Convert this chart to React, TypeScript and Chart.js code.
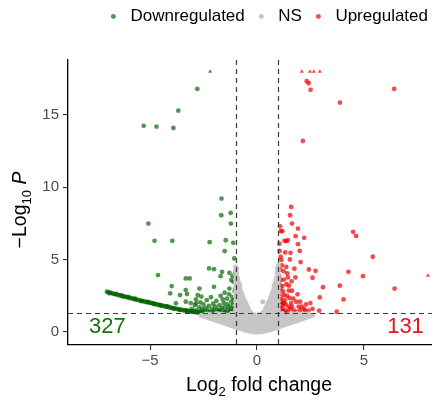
import React, { useEffect, useRef } from 'react';
import { Chart, registerables } from 'chart.js';
Chart.register(...registerables);

const FONT = '"Liberation Sans", Arial, Helvetica, sans-serif';

const legendLabels = ['Downregulated', 'NS', 'Upregulated'];
const xTicks = [-5, 0, 5];
const yTicks = [0, 5, 10, 15];
const fcCutoffs = [-1, 1];
const pCutoffLog = 1.3;
const downCount = 327;
const upCount = 131;

// [log2FC, -log10 P, capped(1)]
const downScattered: number[][] = [
  [-2.19, 18, 1], [-2.79, 16.8], [-3.68, 15.3], [-5.3, 14.25], [-4.7, 14.2], [-3.91, 14.1],
  [-5.08, 7.49], [-4.79, 6.3], [-3.96, 6.3], [-4.63, 3.93], [-3.33, 3.7], [-3.15, 3.7],
  [-3.99, 3.17], [-3.33, 2.9], [-4.06, 2.67], [-2.77, 2.55],
  [-1.66, 9.22], [-1.67, 8.07], [-1.23, 8.23], [-1.22, 7.49], [-2.21, 6.21], [-1.46, 6.34],
  [-1.11, 6.16], [-1.51, 5.59], [-1.06, 5.08], [-2.24, 4.39], [-2.01, 4.34], [-1.63, 4.16],
  [-1.29, 4.09], [-1.7, 3.86], [-1.14, 3.86], [-1.02, 4.05], [-1.2, 3.59], [-1.1, 3.47],
  [-2.01, 3.12], [-1.29, 3.0], [-1.02, 3.0], [-1.51, 2.71],
  [-3.6, 2.55], [-3.27, 2.62], [-2.69, 3.0], [-3.79, 1.98], [-3.33, 2.09], [-2.85, 1.98],
];
const downCluster: number[][] = [
  [-3.2, 1.45], [-3.05, 1.6], [-2.95, 1.42], [-2.9, 1.85], [-2.85, 1.5], [-2.75, 1.38], [-2.7, 1.7],
  [-2.65, 2.05], [-2.6, 1.45], [-2.55, 1.58], [-2.5, 1.9], [-2.45, 1.4], [-2.4, 1.65], [-2.35, 2.2],
  [-2.3, 1.5], [-2.25, 1.8], [-2.2, 1.38], [-2.15, 2.4], [-2.1, 1.6], [-2.05, 1.95], [-2.0, 1.45],
  [-1.95, 1.75], [-1.9, 2.15], [-1.85, 1.55], [-1.8, 1.4], [-1.75, 1.85], [-1.7, 2.5], [-1.65, 1.65],
  [-1.6, 1.45], [-1.55, 2.0], [-1.5, 1.7], [-1.45, 1.4], [-1.4, 2.3], [-1.38, 1.9], [-1.35, 1.55],
  [-1.3, 2.6], [-1.28, 1.75], [-1.25, 1.42], [-1.2, 2.1], [-1.18, 1.6], [-1.15, 2.4], [-1.12, 1.85],
  [-1.1, 1.45], [-1.08, 2.2], [-1.05, 1.65], [-1.04, 2.8], [-1.03, 1.38], [-1.02, 2.0], [-2.85, 2.25],
  [-3.1, 2.0], [-2.6, 2.45], [-1.9, 1.35], [-1.6, 2.25], [-2.4, 1.35], [-1.75, 1.5], [-2.05, 1.35],
  [-1.5, 1.35], [-1.25, 1.35],
];
const downCurve: number[][] = [
  [-7.02, 2.78], [-6.95, 2.74], [-6.88, 2.72], [-6.8, 2.7], [-6.72, 2.64], [-6.65, 2.62], [-6.58, 2.6],
  [-6.5, 2.56], [-6.42, 2.53], [-6.35, 2.52], [-6.28, 2.47], [-6.2, 2.45], [-6.12, 2.42], [-6.05, 2.4],
  [-5.98, 2.36], [-5.9, 2.34], [-5.82, 2.31], [-5.75, 2.28], [-5.68, 2.26], [-5.6, 2.22], [-5.52, 2.2],
  [-5.45, 2.17], [-5.38, 2.15], [-5.3, 2.12], [-5.22, 2.09], [-5.15, 2.07], [-5.08, 2.04], [-5.0, 2.02],
  [-4.92, 1.99], [-4.85, 1.97], [-4.78, 1.94], [-4.7, 1.91], [-4.62, 1.89], [-4.55, 1.86], [-4.48, 1.84],
  [-4.4, 1.81], [-4.32, 1.78], [-4.25, 1.76], [-4.18, 1.73], [-4.1, 1.71], [-4.02, 1.68], [-3.95, 1.65],
  [-3.88, 1.63], [-3.8, 1.61], [-3.72, 1.58], [-3.65, 1.56], [-3.58, 1.54], [-3.5, 1.52], [-3.42, 1.5],
  [-3.35, 1.48], [-3.28, 1.46], [-3.2, 1.44], [-3.12, 1.42], [-3.05, 1.41], [-2.98, 1.39], [-2.9, 1.38],
  [-2.82, 1.36], [-2.75, 1.35], [-2.68, 1.34], [-2.6, 1.33], [-2.52, 1.32],
  [-6.9, 2.67], [-6.6, 2.64], [-6.3, 2.5], [-6.0, 2.41], [-5.7, 2.3], [-5.4, 2.13], [-5.1, 2.08],
  [-4.8, 1.92], [-4.5, 1.83], [-4.2, 1.77], [-3.9, 1.62], [-3.6, 1.53], [-3.3, 1.49], [-3.0, 1.41],
];
const upPoints: number[][] = [
  [2.1, 18, 1], [2.48, 18, 1], [2.66, 18, 1], [2.94, 18, 1], [8.0, 3.9, 1],
  [2.33, 17.33], [2.42, 17.2], [2.51, 16.74], [3.88, 15.86], [6.42, 16.8], [2.15, 13.2],
  [1.6, 8.64], [1.55, 8.07], [1.64, 7.49], [1.92, 7.15], [1.11, 6.97], [1.19, 6.97], [1.81, 6.62],
  [2.21, 6.51], [1.29, 6.3], [1.38, 6.28], [1.45, 6.35], [1.92, 6.07], [2.0, 5.6], [1.57, 5.47],
  [1.11, 5.2], [1.14, 4.97], [1.54, 5.01], [2.04, 4.83], [1.17, 4.6], [1.37, 4.5], [1.75, 4.37],
  [2.43, 4.32], [2.74, 4.23], [4.28, 4.16], [4.96, 3.86], [1.42, 4.05], [1.45, 3.77], [1.8, 3.77],
  [2.6, 3.75], [1.11, 3.6], [1.26, 3.62], [3.88, 3.2], [3.09, 3.1], [1.19, 3.17], [1.11, 3.0],
  [1.49, 2.85], [1.64, 2.85], [1.26, 2.55], [1.11, 2.44], [2.94, 2.39], [4.05, 2.25], [1.84, 2.09],
  [2.02, 2.09], [1.26, 1.98], [1.14, 1.86], [1.49, 1.75], [1.64, 1.75], [1.95, 1.75], [2.1, 1.75],
  [2.25, 1.47], [2.41, 1.47], [2.91, 1.47], [3.73, 1.4], [1.11, 1.5], [1.19, 1.45], [1.34, 1.5],
  [1.72, 1.5], [2.02, 1.5], [4.5, 6.92], [4.64, 6.64], [5.42, 5.2], [6.44, 3.0],
  [1.03, 1.4], [1.05, 1.7], [1.08, 2.1], [1.03, 2.7], [1.06, 3.3], [1.04, 3.9], [1.09, 4.3],
  [1.06, 5.6], [1.15, 2.2], [1.22, 2.8], [1.3, 2.2], [1.35, 1.9], [1.4, 2.5], [1.2, 1.65],
  [1.28, 1.35], [1.45, 1.38], [1.55, 1.6], [1.6, 2.0], [1.7, 2.3], [1.38, 3.3], [1.5, 3.2],
  [1.25, 4.2], [1.32, 5.5], [1.05, 6.1], [1.85, 1.38], [2.2, 1.6], [2.3, 1.9], [1.15, 1.38],
  [1.62, 3.5], [1.9, 2.6], [2.5, 2.0], [2.6, 1.6], [1.08, 7.3], [1.22, 1.95], [1.52, 2.35],
];
// NS points, listed column by column: [log2FC, [-log10 P values]]
const nsColumns: [number, number[]][] = [
  [-2.6, [1.15]],
  [-2.5, [1.1]],
  [-2.4, [1.05, 1.25]],
  [-2.3, [1.0, 1.22]],
  [-2.2, [0.95, 1.2]],
  [-2.1, [0.9, 1.15]],
  [-2.0, [0.85, 1.1]],
  [-1.9, [0.8, 1.05, 1.28]],
  [-1.8, [0.75, 1.0, 1.25]],
  [-1.7, [0.7, 0.98, 1.22]],
  [-1.6, [0.65, 0.95, 1.2]],
  [-1.5, [0.6, 0.9, 1.18]],
  [-1.4, [0.55, 0.85, 1.15]],
  [-1.3, [0.5, 0.8, 1.1]],
  [-1.2, [0.45, 0.75, 1.05, 1.28]],
  [-1.1, [0.4, 0.7, 1.0, 1.28]],
  [-1.0, [0.35, 0.65, 0.95, 1.25, 1.55, 1.85, 2.15, 2.45, 2.75, 3.05, 3.35, 3.65, 3.95, 4.25, 4.5]],
  [-0.95, [0.5, 0.8, 1.1, 1.4, 1.7, 2.0, 2.3, 2.6, 2.9, 3.2, 3.5, 3.8, 4.1, 4.4]],
  [-0.9, [0.3, 0.6, 0.9, 1.2, 1.5, 1.8, 2.1, 2.4, 2.7, 3.0, 3.3, 3.7]],
  [-0.85, [0.42, 0.72, 1.02, 1.32, 1.62, 1.92, 2.22, 2.52, 2.82, 3.12, 3.4]],
  [-0.8, [0.25, 0.55, 0.85, 1.15, 1.45, 1.75, 2.05, 2.35, 2.65, 2.95, 3.2]],
  [-0.75, [0.38, 0.68, 0.98, 1.28, 1.58, 1.88, 2.18, 2.48, 2.8]],
  [-0.7, [0.2, 0.5, 0.8, 1.1, 1.4, 1.7, 2.0, 2.3, 2.6]],
  [-0.65, [0.3, 0.6, 0.9, 1.2, 1.5, 1.8, 2.1, 2.4]],
  [-0.6, [0.15, 0.45, 0.75, 1.05, 1.35, 1.65, 1.95, 2.2]],
  [-0.55, [0.25, 0.55, 0.85, 1.15, 1.45, 1.75, 2.05]],
  [-0.5, [0.1, 0.4, 0.7, 1.0, 1.3, 1.6, 1.9]],
  [-0.45, [0.22, 0.52, 0.82, 1.12, 1.42, 1.75]],
  [-0.4, [0.08, 0.38, 0.68, 0.98, 1.28, 1.6]],
  [-0.35, [0.2, 0.5, 0.8, 1.1, 1.42]],
  [-0.3, [0.05, 0.35, 0.65, 0.95, 1.3]],
  [-0.25, [0.17, 0.47, 0.77, 1.07, 1.3]],
  [-0.2, [0.02, 0.32, 0.62, 0.92, 1.2]],
  [-0.15, [0.15, 0.45, 0.75, 1.05, 1.2]],
  [-0.1, [0.0, 0.3, 0.6, 0.9, 1.1]],
  [-0.05, [0.15, 0.45, 0.75, 1.0]],
  [0.0, [0.0, 0.3, 0.6, 0.9]],
  [0.05, [0.15, 0.45, 0.75, 1.0]],
  [0.1, [0.0, 0.3, 0.6, 0.9, 1.1]],
  [0.15, [0.15, 0.45, 0.75, 1.05, 1.2]],
  [0.2, [0.02, 0.32, 0.62, 0.92, 1.2]],
  [0.25, [0.17, 0.47, 0.77, 1.07, 1.3]],
  [0.27, [2.09]],
  [0.3, [0.05, 0.35, 0.65, 0.95, 1.3]],
  [0.35, [0.2, 0.5, 0.8, 1.1, 1.42]],
  [0.4, [0.08, 0.38, 0.68, 0.98, 1.28, 1.6]],
  [0.45, [0.22, 0.52, 0.82, 1.12, 1.42, 1.75]],
  [0.5, [0.1, 0.4, 0.7, 1.0, 1.3, 1.6, 1.9]],
  [0.55, [0.25, 0.55, 0.85, 1.15, 1.45, 1.75, 2.05]],
  [0.6, [0.15, 0.45, 0.75, 1.05, 1.35, 1.65, 1.95, 2.2]],
  [0.65, [0.3, 0.6, 0.9, 1.2, 1.5, 1.8, 2.1, 2.4]],
  [0.7, [0.2, 0.5, 0.8, 1.1, 1.4, 1.7, 2.0, 2.3, 2.6]],
  [0.75, [0.38, 0.68, 0.98, 1.28, 1.58, 1.88, 2.18, 2.48, 2.8]],
  [0.8, [0.25, 0.55, 0.85, 1.15, 1.45, 1.75, 2.05, 2.35, 2.65, 2.95, 3.2]],
  [0.85, [0.42, 0.72, 1.02, 1.32, 1.62, 1.92, 2.22, 2.52, 2.82, 3.12, 3.4]],
  [0.9, [0.3, 0.6, 0.9, 1.2, 1.5, 1.8, 2.1, 2.4, 2.7, 3.0, 3.3, 3.7]],
  [0.95, [0.5, 0.8, 1.1, 1.4, 1.7, 2.0, 2.3, 2.6, 2.9, 3.2, 3.5, 3.8, 4.1, 4.4]],
  [1.0, [0.35, 0.65, 0.95, 1.25, 1.55, 1.85, 2.15, 2.45, 2.75, 3.05, 3.35, 3.65, 3.95, 4.25, 4.6]],
  [1.1, [0.4, 0.7, 1.0, 1.28]],
  [1.2, [0.45, 0.75, 1.05, 1.28]],
  [1.3, [0.5, 0.8, 1.1]],
  [1.4, [0.55, 0.85, 1.15]],
  [1.5, [0.6, 0.9, 1.18]],
  [1.6, [0.65, 0.95, 1.2]],
  [1.7, [0.7, 0.98, 1.22]],
  [1.8, [0.75, 1.0, 1.25]],
  [1.9, [0.8, 1.05, 1.28]],
  [2.0, [0.85, 1.1]],
  [2.1, [0.9, 1.15]],
  [2.2, [0.95, 1.2]],
  [2.3, [1.0, 1.22]],
  [2.4, [1.05, 1.25]],
  [2.5, [1.1]],
  [2.6, [1.15]],
];

const toPts = (arr: number[][]) => arr.map((p) => ({ x: p[0], y: p[1], cap: p[2] === 1 }));
const nsPts = nsColumns.flatMap(([x, ys]) => ys.map((y) => ({ x, y, cap: false })));

type Part = { t: string; font: string; dy: number };
function drawRich(ctx: CanvasRenderingContext2D, parts: Part[], cx: number, by: number) {
  let total = 0;
  const widths = parts.map((p) => {
    ctx.font = p.font;
    const w = ctx.measureText(p.t).width;
    total += w;
    return w;
  });
  let x = cx - total / 2;
  parts.forEach((p, i) => {
    ctx.font = p.font;
    ctx.fillText(p.t, x, by + p.dy);
    x += widths[i];
  });
}

const overlay = {
  id: 'overlay',
  afterDatasetsDraw(chart: any) {
    const { ctx, chartArea: a, scales } = chart;
    const xs = scales.x;
    const ys = scales.y;
    ctx.save();
    ctx.beginPath();
    ctx.rect(a.left, a.top, a.right - a.left, a.bottom - a.top);
    ctx.clip();
    ctx.setLineDash([5, 4]);
    ctx.strokeStyle = '#3a3a3a';
    ctx.lineWidth = 1.2;
    for (const v of fcCutoffs) {
      const px = Math.round(xs.getPixelForValue(v)) + 0.5;
      ctx.beginPath();
      ctx.moveTo(px, a.top);
      ctx.lineTo(px, a.bottom);
      ctx.stroke();
    }
    const py = Math.round(ys.getPixelForValue(pCutoffLog)) + 0.5;
    ctx.beginPath();
    ctx.moveTo(a.left, py);
    ctx.lineTo(a.right, py);
    ctx.stroke();
    ctx.restore();

    ctx.save();
    ctx.font = `22px ${FONT}`;
    ctx.textAlign = 'center';
    ctx.textBaseline = 'alphabetic';
    ctx.fillStyle = '#137313';
    ctx.fillText(String(downCount), xs.getPixelForValue(-7.0), ys.getPixelForValue(-0.05));
    ctx.fillStyle = '#e8141a';
    ctx.fillText(String(upCount), xs.getPixelForValue(6.95), ys.getPixelForValue(-0.05));
    ctx.restore();
  },
  afterDraw(chart: any) {
    const { ctx } = chart;
    ctx.save();
    ctx.fillStyle = '#000';
    ctx.textAlign = 'left';
    ctx.textBaseline = 'alphabetic';
    drawRich(ctx, [
      { t: 'Log', font: `19.5px ${FONT}`, dy: 0 },
      { t: '2', font: `13px ${FONT}`, dy: 5 },
      { t: ' fold change', font: `19.5px ${FONT}`, dy: 0 },
    ], 259, 391);
    ctx.translate(26, 210);
    ctx.rotate(-Math.PI / 2);
    drawRich(ctx, [
      { t: '\u2212Log', font: `19.5px ${FONT}`, dy: 0 },
      { t: '10', font: `13px ${FONT}`, dy: 5 },
      { t: ' ', font: `19.5px ${FONT}`, dy: 0 },
      { t: 'P', font: `italic 19.5px ${FONT}`, dy: 0 },
    ], 0, 0);
    ctx.restore();
  },
};

const fmt = (v: any) => (Number(v) < 0 ? '\u2212' + Math.abs(Number(v)) : String(v));

export default function App() {
  const ref = useRef<HTMLCanvasElement | null>(null);
  useEffect(() => {
    if (!ref.current) return;
    const pointStyle = (c: any) => (c.raw && c.raw.cap ? 'triangle' : 'circle');
    const chart = new Chart(ref.current, {
      type: 'scatter',
      data: {
        datasets: [
          {
            label: legendLabels[0],
            data: toPts([...downCurve, ...downCluster, ...downScattered]),
            backgroundColor: 'rgba(0,100,0,0.68)',
            borderWidth: 0,
            pointRadius: 2.4,
            pointStyle,
            order: 2,
          },
          {
            label: legendLabels[1],
            data: nsPts,
            backgroundColor: '#c6c6c6',
            borderWidth: 0,
            pointRadius: 2.5,
            pointStyle,
            order: 1,
          },
          {
            label: legendLabels[2],
            data: toPts(upPoints),
            backgroundColor: 'rgba(238,0,0,0.7)',
            borderWidth: 0,
            pointRadius: 2.4,
            pointStyle,
            order: 3,
          },
        ],
      },
      options: {
        responsive: false,
        animation: false,
        events: [],
        layout: { padding: 0 },
        plugins: {
          tooltip: { enabled: false },
          title: { display: true, text: '', padding: { top: 0, bottom: 13 }, font: { size: 10 } },
          legend: {
            position: 'top',
            align: 'end',
            weight: 3000,
            labels: {
              usePointStyle: true,
              pointStyle: 'circle',
              boxWidth: 22,
              boxHeight: 3.5,
              padding: 8,
              color: '#000',
              font: { size: 17, family: FONT },
              sort: (a: any, b: any) => a.datasetIndex - b.datasetIndex,
            },
          } as any,
        },
        scales: {
          x: {
            type: 'linear',
            min: -8.84,
            max: 8.19,
            afterBuildTicks: (s: any) => { s.ticks = xTicks.map((v) => ({ value: v })); },
            afterFit: (s: any) => { s.height = 58; },
            ticks: { callback: fmt, color: '#4d4d4d', font: { size: 15, family: FONT }, padding: 2, maxRotation: 0 },
            grid: { display: true, drawOnChartArea: false, drawTicks: true, tickLength: 5, color: '#333', lineWidth: 1.1 },
            border: { display: true, color: '#000', width: 1.3 },
          },
          y: {
            type: 'linear',
            min: -0.9,
            max: 18.8,
            afterBuildTicks: (s: any) => { s.ticks = yTicks.map((v) => ({ value: v })); },
            afterFit: (s: any) => { s.width = 68; },
            ticks: { callback: fmt, color: '#4d4d4d', font: { size: 15, family: FONT }, padding: 4 },
            grid: { display: true, drawOnChartArea: false, drawTicks: true, tickLength: 5, color: '#333', lineWidth: 1.1 },
            border: { display: true, color: '#000', width: 1.3 },
          },
        },
      },
      plugins: [overlay],
    } as any);
    return () => chart.destroy();
  }, []);
  return (
    <div style={{ position: 'fixed', left: 0, top: 0, width: 436, height: 403, background: '#fff' }}>
      <canvas ref={ref} width={436} height={403} style={{ width: 436, height: 403 }} />
    </div>
  );
}
